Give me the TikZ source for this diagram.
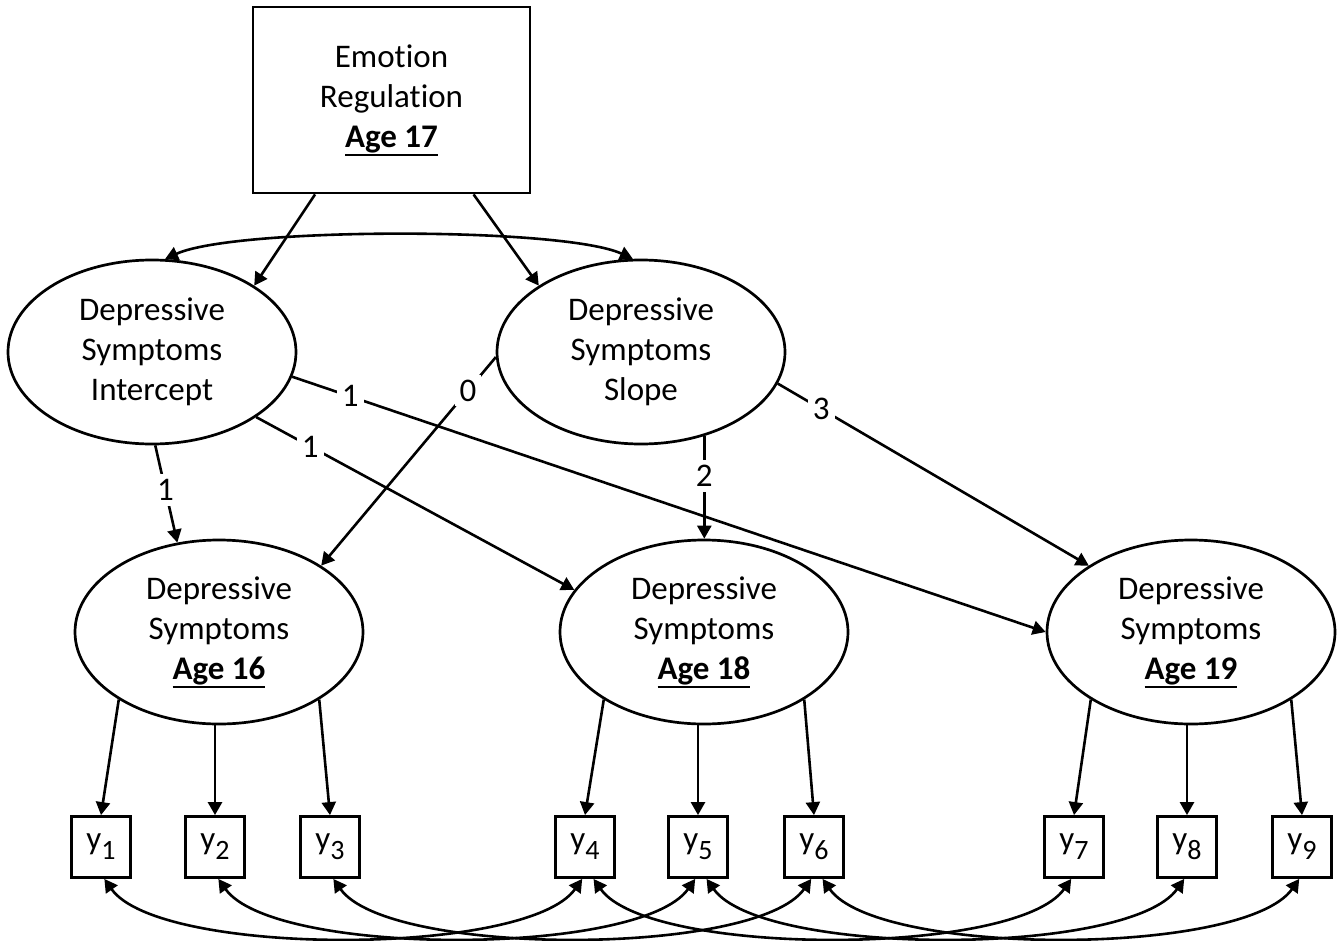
\documentclass[tikz,border=0pt]{standalone}
\usepackage{fontspec}
\setmainfont{Carlito}[Ligatures=NoCommon]
\usetikzlibrary{arrows.meta,shapes.geometric}
\newcommand\ysub[1]{y\raisebox{-5pt}{\fontsize{14}{14}\selectfont #1}}
\newcommand\ulbold[1]{{\setbox0\hbox{\textbf{#1}}\rlap{\rule[-4.2pt]{\wd0}{1pt}}\box0}}
\begin{document}
\begin{tikzpicture}[x=0.5pt,y=-0.5pt,
  every node/.style={font=\fontsize{16.5}{20}\selectfont},
  latent/.style={draw, ellipse, line width=1.35pt, minimum width=144pt, minimum height=92pt, inner sep=0pt, align=center},
  obs/.style={draw, rectangle, line width=1.4pt, minimum width=29.5pt, minimum height=30.5pt, inner sep=0pt},
  arr/.style={-{Triangle[length=6.5pt,width=7pt]}, line width=1.3pt},
  darr/.style={{Triangle[length=6.5pt,width=7pt]}-{Triangle[length=6.5pt,width=7pt]}, line width=1.3pt},
  lab/.style={fill=white, inner sep=2.5pt}
]
\fill[white] (0,0) rectangle (1342,941);
\useasboundingbox (0,0) rectangle (1342,941);

\node[obs, minimum width=138.5pt, minimum height=93pt, align=center] (emo) at (391.5,100)
  {Emotion\\Regulation\\\ulbold{Age 17}};

\node[latent] (int) at (152,352) {Depressive\\Symptoms\\Intercept};
\node[latent] (slo) at (641,352) {Depressive\\Symptoms\\Slope};
\node[latent] (a16) at (219,632) {Depressive\\Symptoms\\\ulbold{Age 16}};
\node[latent] (a18) at (704,632) {Depressive\\Symptoms\\\ulbold{Age 18}};
\node[latent] (a19) at (1191,632) {Depressive\\Symptoms\\\ulbold{Age 19}};

\foreach \i/\x in {1/101,2/215,3/330,4/585,5/698,6/814,7/1074,8/1187,9/1302}
  \node[obs] (y\i) at (\x,847) {\ysub{\i}};

% top regressions
\draw[arr] (emo.231.7) -- (int.33);
\draw[arr] (emo.311.2) -- (slo.147);
\draw[darr] (int.82) .. controls +(70,-32) and +(-70,-32) .. (slo.95);

% growth loadings
\draw[arr] (int.-88) -- node[lab, pos=0.46] (l1) {1} (a16.115);
\draw[arr] (int.-32.7) -- node[lab, pos=0.17] (l2) {1} (a18.162);
\draw[arr] (int.-10.3) -- node[lab, pos=0.077] (l3) {1} (a19.180);
\draw[arr] (slo.182) -- node[lab, pos=0.16] (l4) {0} (a16.33.8);
\draw[arr] (slo.-53) -- node[lab, pos=0.39] (l5) {2} (slo.-53 |- a18.north);
\draw[arr] (slo.-13.6) -- node[lab, pos=0.14] (l6) {3} (a19.147);

% measurement
\foreach \e/\a/\b/\c in {a16/1/2/3, a18/4/5/6, a19/7/8/9} {
  \draw[arr] (\e.214) -- (y\a.north);
  \draw[arr] (y\b.north |- \e.south) -- (y\b.north);
  \draw[arr] (\e.-34) -- (y\c.north);
}

% residual covariances
\foreach \a/\b/\s in {1/4/-84, 2/5/-84, 3/6/-84, 4/7/-75, 5/8/-75, 6/9/-75}
  \draw[darr] (y\a.\s) .. controls +(55,78) and +(-55,78) .. (y\b.-95);
\end{tikzpicture}
\end{document}
